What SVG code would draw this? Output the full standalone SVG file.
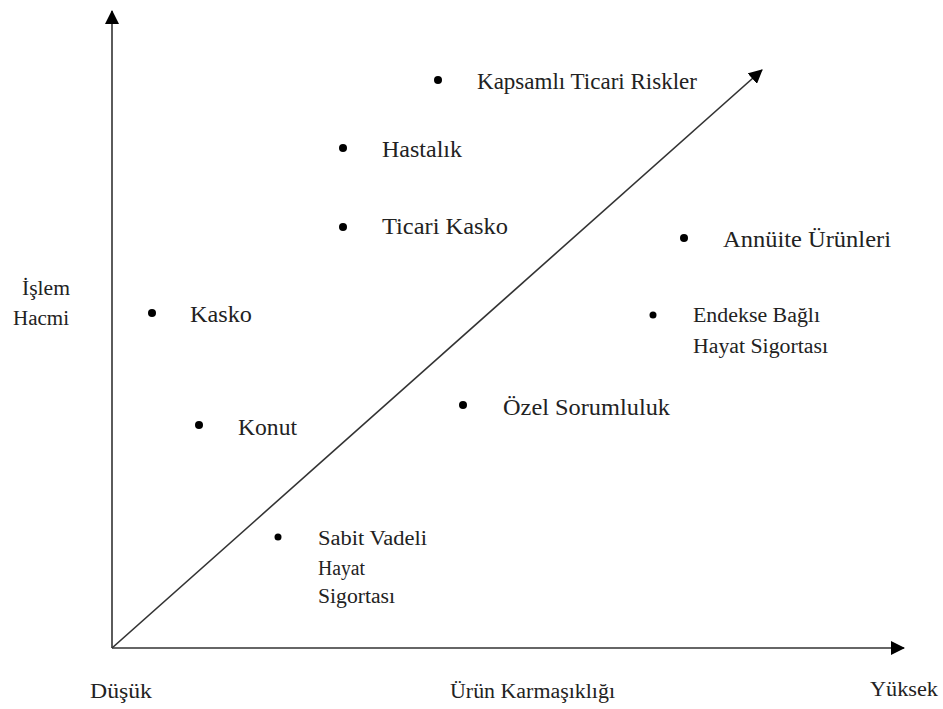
<svg xmlns="http://www.w3.org/2000/svg" width="943" height="709" viewBox="0 0 943 709">
<defs>
<marker id="ah" markerWidth="14" markerHeight="14" refX="13" refY="7" orient="auto" markerUnits="userSpaceOnUse">
<path d="M0,0 L14,7 L0,14 Z" fill="#000"/>
</marker>
<style>
text{font-family:"Liberation Serif",Tinos,"Times New Roman",Times,"Nimbus Roman","Nimbus Roman No9 L","Noto Serif","DejaVu Serif",FreeSerif,serif;fill:#222}
.big{font-size:23px}
.sm{font-size:20px}
.ax{font-size:20px}
.ln{stroke:#333;stroke-width:1.6;fill:none}
.dot{fill:#000}
</style>
</defs>
<rect width="943" height="709" fill="#fff"/>
<g id="connectors">
<line class="ln" x1="112" y1="648" x2="112" y2="11" marker-end="url(#ah)"/>
<line class="ln" x1="112" y1="648" x2="904" y2="648" marker-end="url(#ah)"/>
<line class="ln" x1="112" y1="648" x2="762" y2="70" marker-end="url(#ah)"/>
</g>
<g id="axis-y-label">
<text class="ax" x="22" y="295" textLength="48" lengthAdjust="spacingAndGlyphs">İşlem</text>
<text class="ax" x="13" y="325" textLength="56" lengthAdjust="spacingAndGlyphs">Hacmi</text>
</g>
<g id="axis-x-labels">
<text class="ax" x="90" y="698" textLength="62" lengthAdjust="spacingAndGlyphs">Düşük</text>
<text class="ax" x="450" y="698" textLength="165" lengthAdjust="spacingAndGlyphs">Ürün Karmaşıklığı</text>
<text class="ax" x="870" y="696" textLength="68" lengthAdjust="spacingAndGlyphs">Yüksek</text>
</g>
<g id="kapsamli">
<circle class="dot" cx="438" cy="80" r="4"/>
<text class="big" x="477" y="89" textLength="220" lengthAdjust="spacingAndGlyphs">Kapsamlı Ticari Riskler</text>
</g>
<g id="hastalik">
<circle class="dot" cx="343" cy="148" r="4"/>
<text class="big" x="382" y="157" textLength="80" lengthAdjust="spacingAndGlyphs">Hastalık</text>
</g>
<g id="ticari-kasko">
<circle class="dot" cx="343" cy="227" r="4"/>
<text class="big" x="382" y="234" textLength="126" lengthAdjust="spacingAndGlyphs">Ticari Kasko</text>
</g>
<g id="annuite">
<circle class="dot" cx="684" cy="238" r="4"/>
<text class="big" x="723" y="247" textLength="168" lengthAdjust="spacingAndGlyphs">Annüite Ürünleri</text>
</g>
<g id="kasko">
<circle class="dot" cx="152" cy="313" r="4"/>
<text class="big" x="190" y="322" textLength="62" lengthAdjust="spacingAndGlyphs">Kasko</text>
</g>
<g id="endekse">
<circle class="dot" cx="653" cy="315" r="3.5"/>
<text class="sm" x="693" y="322" textLength="127" lengthAdjust="spacingAndGlyphs">Endekse Bağlı</text>
<text class="sm" x="693" y="353" textLength="135" lengthAdjust="spacingAndGlyphs">Hayat Sigortası</text>
</g>
<g id="ozel">
<circle class="dot" cx="463" cy="405" r="4"/>
<text class="big" x="503" y="415" textLength="167" lengthAdjust="spacingAndGlyphs">Özel Sorumluluk</text>
</g>
<g id="konut">
<circle class="dot" cx="199" cy="425" r="4"/>
<text class="big" x="238" y="435" textLength="59" lengthAdjust="spacingAndGlyphs">Konut</text>
</g>
<g id="sabit">
<circle class="dot" cx="278" cy="537" r="3.5"/>
<text class="sm" x="318" y="545" textLength="109" lengthAdjust="spacingAndGlyphs">Sabit Vadeli</text>
<text class="sm" x="318" y="575" textLength="47" lengthAdjust="spacingAndGlyphs">Hayat</text>
<text class="sm" x="318" y="603" textLength="77" lengthAdjust="spacingAndGlyphs">Sigortası</text>
</g>
</svg>
